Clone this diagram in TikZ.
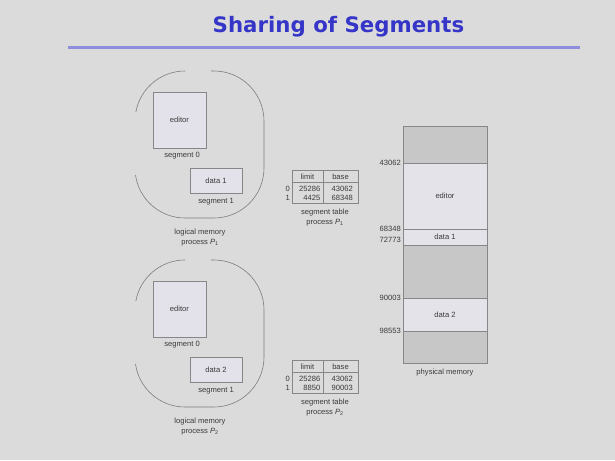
\documentclass[tikz,border=0pt]{standalone}
\usepackage{fontspec}
\setmainfont{Liberation Sans}
\newfontfamily\titlefont{DejaVu Sans}
\definecolor{bgc}{HTML}{DBDBDB}
\definecolor{titlec}{HTML}{3535C8}
\definecolor{rulec}{HTML}{8E8EDC}
\definecolor{txtc}{HTML}{3A3A3A}
\definecolor{linec}{HTML}{878787}
\definecolor{ovalc}{HTML}{7C7C7C}
\definecolor{boxfill}{HTML}{E3E1E9}
\definecolor{darkseg}{HTML}{C7C7C7}
\definecolor{lightseg}{HTML}{E4E3E9}
\begin{document}
\begin{tikzpicture}[x=1pt,y=-1pt,
  small/.style={font=\fontsize{7.6}{8.5}\selectfont, text=txtc, inner sep=0pt},
  segbox/.style={draw=linec, fill=boxfill, line width=0.7pt},
  oval/.style={draw=ovalc, line width=0.6pt},
  tabline/.style={draw=linec, line width=0.6pt},
  divline/.style={draw=linec, line width=0.7pt}]
\useasboundingbox (0,0) rectangle (615,460);
\fill[bgc] (0,0) rectangle (615,460);
% title
\node[font=\titlefont\bfseries\fontsize{21.3}{25}\selectfont, text=titlec, inner sep=0pt] (title) at (338.5,26.5) {Sharing of Segments};
\coordinate (rl) at (68,47.5);
\coordinate (rr) at (580,47.5);
\draw[rulec, line width=2.2pt] (rl) -- (rr);

% logical memory P1 and P2
\foreach \i/\dy/\dname in {1/0/data 1, 2/189/data 2} {
\begin{scope}[shift={(0,\dy)}]
  \draw[oval] (211,71) -- (214,71) arc[start angle=270, end angle=360, radius=50]
     -- (264,168) arc[start angle=0, end angle=90, radius=50]
     -- (185,218) arc[start angle=90, end angle=172, radius=50];
  \draw[oval] (135.8,112.3) arc[start angle=190, end angle=270, radius=50];
  \node[segbox, minimum width=53pt, minimum height=56pt, inner sep=0pt] (ed\i) at (179.5,120) {};
  \node[small] (edt\i) at (ed\i.center) {editor};
  \node[small] (s0\i) at (182,156) {segment 0};
  \node[segbox, minimum width=52pt, minimum height=25pt, inner sep=0pt] (da\i) at (216,180.5) {};
  \node[small] (dat\i) at (da\i.center) {\dname};
  \node[small] (s1\i) at (216,201.5) {segment 1};
  \node[small] (lm\i) at (200,232.5) {logical memory};
  \node[small] (pr\i) at (200,242.5) {process \textit{P}\textsubscript{\i}};
\end{scope}
}

% segment tables
\foreach \i/\dy/\lim/\bas in {1/0/4425/68348, 2/190/8850/90003} {
\begin{scope}[shift={(0,\dy)}]
  \draw[tabline] (292,170) rectangle (358,203);
  \draw[tabline] (292,182) -- (358,182);
  \draw[tabline] (323,170) -- (323,203);
  \node[small] (hl\i) at (307.5,176.5) {limit};
  \node[small] (hb\i) at (340.5,176.5) {base};
  \node[small, anchor=east] (i0\i) at (290,189) {0};
  \node[small, anchor=east] (i1\i) at (290,198) {1};
  \node[small, anchor=east] (l0\i) at (320.5,189) {25286};
  \node[small, anchor=east] (l1\i) at (320.5,198) {\lim};
  \node[small, anchor=east] (b0\i) at (353,189) {43062};
  \node[small, anchor=east] (b1\i) at (353,198) {\bas};
  \node[small] (st\i) at (325,213) {segment table};
  \node[small] (sp\i) at (325,223) {process \textit{P}\textsubscript{\i}};
\end{scope}
}

% physical memory
\fill[darkseg] (403,126) rectangle (487,163);
\fill[lightseg] (403,163) rectangle (487,229);
\fill[lightseg] (403,229) rectangle (487,245);
\fill[darkseg] (403,245) rectangle (487,298);
\fill[lightseg] (403,298) rectangle (487,331);
\fill[darkseg] (403,331) rectangle (487,363);
\foreach \yy in {163,229,245,298,331} \draw[divline] (403,\yy) -- (487,\yy);
\node[draw=linec, line width=0.8pt, minimum width=84pt, minimum height=237pt, inner sep=0pt] (pm) at (445,244.5) {};
\node[small] (pme) at (445,196) {editor};
\node[small] (pmd1) at (445,237) {data 1};
\node[small] (pmd2) at (445,314.5) {data 2};
\node[small] (pmc) at (445,372.5) {physical memory};
\node[small, anchor=east] (a1) at (401,163) {43062};
\node[small, anchor=east] (a2) at (401,229) {68348};
\node[small, anchor=east] (a3) at (401,240) {72773};
\node[small, anchor=east] (a4) at (401,298) {90003};
\node[small, anchor=east] (a5) at (401,331) {98553};
\end{tikzpicture}
\end{document}
